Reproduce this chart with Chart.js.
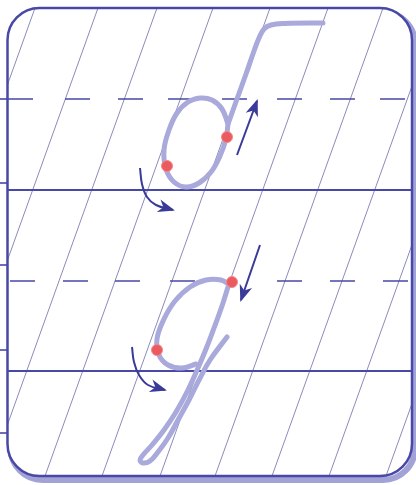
<!DOCTYPE html>
<html>
<head>
<meta charset="utf-8">
<script src="https://cdn.jsdelivr.net/npm/chart.js@4/dist/chart.umd.min.js"></script>
<style>
  html, body { margin: 0; padding: 0; background: #fff; }
  #hoja { display: block; }
</style>
</head>
<body>
<canvas id="hoja" width="416" height="485"></canvas>
<script>
// === hoja de caligrafía: letras б y д ===
// todo en unidades de la hoja (0..416 x 0..485, y hacia abajo)

// renglones
const renglonesSolidos = [190, 371];
const renglonesPunteados = [99, 281];
const guionesArriba = [8, 65, 118, 168, 222, 277, 330, 380];   // x donde empieza cada guion
const guionesAbajo = [10, 63, 115, 170, 277, 330, 383];
const marcasMargen = [99, 183, 265, 350, 433];                  // marquitas a la izquierda

// lineas inclinadas: x arriba (y=8) y x abajo (y=476)
const inclinadasArriba = [35, 98, 157, 213, 270, 328, 383, 440, 497, 554];
const inclinadasAbajo = [-133, -70, -11, 45, 102, 160, 215, 272, 329, 386];

// letra б
const bOvaloX = [228, 222, 212, 200, 188, 177, 169, 164, 166, 174, 186, 199, 211, 220, 226, 228];
const bOvaloY = [124, 109, 100, 98, 102, 113, 130, 150, 169, 182, 187, 183, 172, 156, 139, 124];
const bAstaX = [228, 237, 246, 254, 259, 264, 271, 285, 323];
const bAstaY = [124, 99, 74, 51, 38, 29, 25, 23.5, 23];

// letra д
const dOvaloX = [230, 221, 206, 190, 175, 164, 157, 159, 168, 182, 196];
const dOvaloY = [285, 280, 280, 287, 301, 319, 339, 355, 365, 368, 364];
const dTrazoX = [228, 222, 214, 206, 198, 188, 176, 164, 152, 143, 140, 143, 150, 158, 168, 178, 189, 199, 210, 227];
const dTrazoY = [287, 306, 328, 349, 368, 390, 412, 430, 445, 455, 460, 463, 461, 452, 438, 420, 400, 380, 360, 337];

// puntos rojos (inicio de trazo)
const puntosX = [227, 167, 232, 157];
const puntosY = [137, 166, 282, 350];

// flechas
const flechaB1X = [237, 257];
const flechaB1Y = [155, 101];
const flechaB2X = [140, 142, 147, 156, 173];
const flechaB2Y = [168, 184, 197, 205, 210];
const flechaD1X = [260, 241];
const flechaD1Y = [245, 300];
const flechaD2X = [132, 134, 139, 148, 165];
const flechaD2Y = [347, 362, 375, 385, 390];

const AZUL = "#4848a6";
const AZUL_FLECHA = "#3a3a98";
const LAVANDA = "#a9a9db";
const ROJO = "#ea5a5e";
const MARCO = { izq: 7.5, der: 412, arr: 8, aba: 476, radio: 32 };
const LARGO_GUION = 25;

function puntos(xs, ys) {
  return xs.map((x, i) => ({ x: x, y: ys[i] }));
}

function linea(data, extra) {
  return Object.assign({
    data: data,
    showLine: true,
    pointRadius: 0,
    borderColor: AZUL,
    borderWidth: 1,
    tension: 0,
    fill: false
  }, extra);
}

const datasets = [];

// inclinadas (recortadas al marco)
inclinadasArriba.forEach((xa, i) => {
  datasets.push(linea([{ x: xa, y: MARCO.arr }, { x: inclinadasAbajo[i], y: MARCO.aba }], {
    borderColor: "rgba(60,60,140,0.75)", borderWidth: 0.8, order: 60, recortar: true
  }));
});

// renglones solidos
renglonesSolidos.forEach((y) => {
  datasets.push(linea([{ x: MARCO.izq, y: y }, { x: MARCO.der, y: y }], { borderWidth: 2, order: 50 }));
});

// renglones punteados
[guionesArriba, guionesAbajo].forEach((inicios, k) => {
  const y = renglonesPunteados[k];
  const data = [];
  inicios.forEach((x) => {
    data.push({ x: x, y: y }, { x: x + LARGO_GUION, y: y }, { x: x + LARGO_GUION, y: null });
  });
  datasets.push(linea(data, { borderWidth: 1.6, order: 50, spanGaps: false }));
});

// marcas del margen
marcasMargen.forEach((y) => {
  datasets.push(linea([{ x: 0, y: y }, { x: MARCO.izq, y: y }], { borderWidth: 1.6, order: 50 }));
});

// letras
const estiloLetra = {
  borderColor: LAVANDA, borderWidth: 5, tension: 0.4, order: 30,
  borderCapStyle: "round", borderJoinStyle: "round"
};
datasets.push(linea(puntos(bOvaloX, bOvaloY), estiloLetra));
datasets.push(linea(puntos(bAstaX, bAstaY), estiloLetra));
datasets.push(linea(puntos(dOvaloX, dOvaloY), estiloLetra));
datasets.push(linea(puntos(dTrazoX, dTrazoY), estiloLetra));

// flechas
const estiloFlecha = { borderColor: AZUL_FLECHA, borderWidth: 2, tension: 0.4, order: 20, flecha: true };
datasets.push(linea(puntos(flechaB1X, flechaB1Y), estiloFlecha));
datasets.push(linea(puntos(flechaB2X, flechaB2Y), estiloFlecha));
datasets.push(linea(puntos(flechaD1X, flechaD1Y), estiloFlecha));
datasets.push(linea(puntos(flechaD2X, flechaD2Y), estiloFlecha));

// puntos rojos
datasets.push({
  data: puntos(puntosX, puntosY),
  showLine: false,
  pointRadius: 5.5,
  pointBackgroundColor: ROJO,
  pointBorderColor: "#f08a8c",
  pointBorderWidth: 1,
  order: 10
});

function caminoMarco(ctx, chart, dx, dy) {
  const sx = chart.scales.x, sy = chart.scales.y;
  const l = sx.getPixelForValue(MARCO.izq) + dx, r = sx.getPixelForValue(MARCO.der) + dx;
  const t = sy.getPixelForValue(MARCO.arr) + dy, b = sy.getPixelForValue(MARCO.aba) + dy;
  const rad = MARCO.radio;
  ctx.beginPath();
  ctx.moveTo(l + rad, t);
  ctx.lineTo(r - rad, t);
  ctx.arcTo(r, t, r, t + rad, rad);
  ctx.lineTo(r, b - rad);
  ctx.arcTo(r, b, r - rad, b, rad);
  ctx.lineTo(l + rad, b);
  ctx.arcTo(l, b, l, b - rad, rad);
  ctx.lineTo(l, t + rad);
  ctx.arcTo(l, t, l + rad, t, rad);
  ctx.closePath();
}

const pluginHoja = {
  id: "hoja",
  beforeDatasetsDraw(chart) {
    const ctx = chart.ctx;
    ctx.save();
    // sombra del marco
    caminoMarco(ctx, chart, 3, 4);
    ctx.strokeStyle = "#a2a2d6";
    ctx.lineWidth = 6;
    ctx.stroke();
    caminoMarco(ctx, chart, 0, 0);
    ctx.fillStyle = "#ffffff";
    ctx.fill();
    ctx.restore();
  },
  beforeDatasetDraw(chart, args) {
    if (chart.data.datasets[args.index].recortar) {
      chart.ctx.save();
      caminoMarco(chart.ctx, chart, 0, 0);
      chart.ctx.clip();
    }
  },
  afterDatasetDraw(chart, args) {
    const ds = chart.data.datasets[args.index];
    if (ds.recortar) chart.ctx.restore();
    if (ds.flecha) {
      // punta de la flecha segun la direccion del ultimo tramo
      const pts = args.meta.data;
      const p = pts[pts.length - 1], q = pts[pts.length - 2];
      const ang = Math.atan2(p.y - q.y, p.x - q.x);
      const ctx = chart.ctx;
      ctx.save();
      ctx.translate(p.x, p.y);
      ctx.rotate(ang);
      ctx.beginPath();
      ctx.moveTo(2, 0);
      ctx.lineTo(-15, -6.5);
      ctx.lineTo(-10, 0);
      ctx.lineTo(-15, 6.5);
      ctx.closePath();
      ctx.fillStyle = ds.borderColor;
      ctx.fill();
      ctx.restore();
    }
  },
  afterDatasetsDraw(chart) {
    const ctx = chart.ctx;
    ctx.save();
    caminoMarco(ctx, chart, 0, 0);
    ctx.strokeStyle = AZUL;
    ctx.lineWidth = 2.5;
    ctx.stroke();
    ctx.restore();
  }
};

new Chart(document.getElementById("hoja"), {
  type: "scatter",
  data: { datasets: datasets },
  options: {
    responsive: false,
    animation: false,
    devicePixelRatio: 1,
    layout: { padding: 0, autoPadding: false },
    events: [],
    plugins: { legend: { display: false }, tooltip: { enabled: false } },
    scales: {
      x: { type: "linear", min: 0, max: 416, display: false },
      y: { type: "linear", min: 0, max: 485, reverse: true, display: false }
    }
  },
  plugins: [pluginHoja]
});
</script>
</body>
</html>
